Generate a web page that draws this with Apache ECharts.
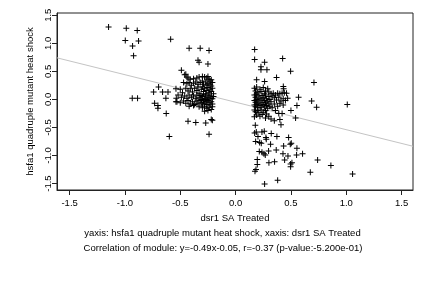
<!DOCTYPE html>
<html><head><meta charset="utf-8">
<script src="https://cdn.jsdelivr.net/npm/echarts@6/dist/echarts.min.js"></script>
<style>html,body{margin:0;padding:0;background:#fff}#c{width:432px;height:288px}</style>
</head><body><div id="c"></div>
<script>
// ---- data ----
const xTicks = [-1.5, -1.0, -0.5, 0.0, 0.5, 1.0, 1.5];
const yTicks = [-1.5, -1.0, -0.5, 0.0, 0.5, 1.0, 1.5];
const xTitle = 'dsr1 SA Treated';
const yTitle = 'hsfa1 quadruple mutant heat shock';
const subtitle1 = 'yaxis: hsfa1 quadruple mutant heat shock, xaxis: dsr1 SA Treated';
const subtitle2 = 'Correlation of module: y=-0.49x-0.05, r=-0.37 (p-value:-5.200e-01)';
const fitSlope = -0.49;
const fitIntercept = -0.05;

const leftOutliers = [
 [-1.148,1.29],[-0.988,1.27],[-0.889,1.23],[-0.997,1.05],[-0.877,1.04],[-0.931,0.95],[-0.922,0.78],
 [-0.587,1.07],[-0.934,0.02],[-0.886,0.02],[-0.741,0.13],[-0.696,0.22],[-0.660,0.13],[-0.611,0.13],
 [-0.732,-0.07],[-0.702,-0.11],[-0.702,-0.16],[-0.630,0.02],[-0.627,-0.25],[-0.599,-0.66],
 [-0.539,0.19],[-0.536,0.02],[-0.539,-0.04],
 [-0.42,0.91],[-0.32,0.91],[-0.24,0.87],[-0.34,0.70],[-0.33,0.66],[-0.25,0.63],
 [-0.43,-0.39],[-0.36,-0.41],[-0.27,-0.42],[-0.22,-0.36],[-0.21,-0.37],[-0.24,-0.62]
];
const leftCluster = [
 [-0.49,0.52],[-0.46,0.44],[-0.45,0.45],[-0.44,0.40],[-0.43,0.38],[-0.41,0.36],[-0.38,0.37],[-0.35,0.38],[-0.33,0.40],[-0.30,0.41],[-0.28,0.40],[-0.26,0.38],[-0.25,0.41],[-0.24,0.36],[-0.23,0.33],[-0.22,0.35],
 [-0.47,0.30],[-0.44,0.28],[-0.42,0.30],[-0.40,0.25],[-0.38,0.29],[-0.36,0.31],[-0.34,0.27],[-0.32,0.30],[-0.30,0.33],[-0.29,0.27],[-0.27,0.31],[-0.26,0.25],[-0.25,0.29],[-0.23,0.27],[-0.22,0.24],[-0.21,0.30],
 [-0.50,0.18],[-0.48,0.12],[-0.45,0.20],[-0.43,0.15],[-0.41,0.19],[-0.39,0.13],[-0.37,0.20],[-0.35,0.16],[-0.34,0.22],[-0.33,0.11],[-0.31,0.18],[-0.30,0.22],[-0.29,0.14],[-0.28,0.19],[-0.27,0.10],[-0.26,0.16],[-0.25,0.21],[-0.24,0.12],[-0.23,0.18],[-0.22,0.14],[-0.21,0.20],[-0.20,0.10],
 [-0.52,0.08],[-0.49,0.04],[-0.46,0.06],[-0.44,0.02],[-0.42,0.08],[-0.40,0.04],[-0.38,0.06],[-0.36,0.01],[-0.35,0.08],[-0.33,0.03],[-0.32,0.07],[-0.31,0.00],[-0.30,0.05],[-0.29,0.09],[-0.28,0.02],[-0.27,0.06],[-0.26,0.00],[-0.25,0.04],[-0.24,0.08],[-0.23,0.02],[-0.22,0.06],[-0.21,0.01],[-0.20,0.05],
 [-0.53,-0.04],[-0.50,-0.06],[-0.47,-0.03],[-0.45,-0.07],[-0.43,-0.02],[-0.41,-0.08],[-0.39,-0.04],[-0.37,-0.09],[-0.35,-0.03],[-0.34,-0.07],[-0.32,-0.02],[-0.31,-0.06],[-0.30,-0.10],[-0.29,-0.03],[-0.28,-0.08],[-0.27,-0.04],[-0.26,-0.09],[-0.25,-0.02],[-0.24,-0.06],[-0.23,-0.10],[-0.22,-0.04],[-0.21,-0.08],
 [-0.42,-0.12],[-0.38,-0.11],[-0.33,-0.13],[-0.30,-0.15],[-0.28,-0.13],[-0.26,-0.16],[-0.24,-0.14],[-0.22,-0.18],[-0.25,-0.20],[-0.28,-0.21],[-0.21,-0.13]
];
const rightCluster = [
 [0.17,0.20],[0.19,0.22],[0.22,0.18],[0.25,0.21],[0.27,0.15],[0.29,0.19],[0.18,0.15],[0.20,0.12],[0.23,0.14],[0.26,0.10],[0.30,0.13],[0.32,0.10],
 [0.17,0.08],[0.18,0.04],[0.19,0.09],[0.21,0.06],[0.22,0.02],[0.24,0.07],[0.25,0.03],[0.27,0.08],[0.28,0.01],[0.30,0.05],[0.31,0.00],[0.33,0.06],
 [0.17,-0.02],[0.18,-0.05],[0.19,0.00],[0.20,-0.03],[0.21,-0.07],[0.23,-0.01],[0.24,-0.05],[0.26,-0.02],[0.27,-0.06],[0.29,-0.03],[0.30,-0.08],[0.32,-0.04],
 [0.17,-0.10],[0.18,-0.13],[0.19,-0.09],[0.20,-0.15],[0.22,-0.11],[0.23,-0.14],[0.25,-0.09],[0.26,-0.13],[0.28,-0.11],[0.29,-0.16],[0.31,-0.12],
 [0.17,-0.19],[0.18,-0.22],[0.20,-0.20],[0.21,-0.24],[0.23,-0.19],[0.25,-0.23],[0.27,-0.20],[0.19,-0.28],[0.22,-0.30],[0.24,-0.27],[0.17,-0.31],[0.28,-0.26],
 [0.34,0.11],[0.36,0.08],[0.38,0.11],[0.40,0.10],[0.42,0.11],[0.44,0.12],[0.46,0.11],[0.35,0.03],[0.37,-0.01],[0.39,0.04],[0.41,-0.03],[0.43,0.01],[0.45,-0.02],[0.47,0.02],
 [0.35,-0.08],[0.38,-0.12],[0.40,-0.07],[0.43,-0.10],[0.36,-0.20],[0.33,-0.15],[0.39,-0.25],[0.42,-0.25],[0.32,-0.35],[0.35,-0.38],[0.40,-0.36],[0.41,-0.45],[0.30,-0.30],[0.27,-0.33]
];
const rightOutliers = [
 [0.172,0.89],[0.172,0.71],[0.262,0.66],[0.229,0.58],[0.229,0.53],[0.283,0.53],[0.425,0.73],[0.497,0.50],
 [0.190,0.35],[0.262,0.32],[0.370,0.39],[0.708,0.30],[0.431,0.23],[0.434,0.19],[0.687,-0.03],[0.732,-0.14],
 [1.009,-0.09],[0.569,0.04],[0.554,-0.11],[0.542,-0.33],[0.500,-0.20],
 [0.178,-0.46],[0.172,-0.60],[0.187,-0.58],[0.202,-0.66],[0.238,-0.58],[0.259,-0.57],[0.181,-0.75],[0.217,-0.77],
 [0.232,-0.78],[0.274,-0.68],[0.277,-0.71],[0.322,-0.61],[0.373,-0.66],[0.316,-0.80],[0.434,-0.83],[0.479,-0.68],
 [0.494,-0.80],[0.503,-0.78],[0.554,-0.87],[0.214,-0.93],[0.238,-0.94],[0.256,-0.97],[0.268,-0.99],[0.298,-0.92],
 [0.367,-0.90],[0.428,-0.97],[0.473,-1.01],[0.551,-0.99],[0.605,-0.97],[0.196,-1.07],[0.196,-1.16],[0.301,-1.13],
 [0.352,-1.11],[0.443,-1.08],[0.509,-1.13],[0.497,-1.15],[0.497,-1.20],[0.741,-1.08],[0.861,-1.18],[0.184,-1.25],
 [0.175,-1.28],[0.380,-1.44],[0.262,-1.51],[0.675,-1.30],[1.057,-1.33]
];

// ---- chart ----
const xMin = -1.614, xMax = 1.603, yMin = -1.615, yMax = 1.54;
const font = 'Liberation Sans, Arial, Helvetica, sans-serif';
const fs = 9.5;
const allPoints = [].concat(leftOutliers, leftCluster, rightCluster, rightOutliers);
const fitLine = [[xMin, fitSlope * xMin + fitIntercept], [xMax, fitSlope * xMax + fitIntercept]];
const plusPath = 'path://M2.5,0h1v6h-1z M0,2.5h6v1h-6z';

const chart = echarts.init(document.getElementById('c'), null, {renderer: 'canvas'});
chart.setOption({
  animation: false,
  backgroundColor: '#fff',
  grid: {left: 57, right: 19, top: 13, bottom: 98, show: true, borderColor: '#222', borderWidth: 1, backgroundColor: 'transparent'},
  xAxis: {
    type: 'value', min: xMin, max: xMax,
    name: xTitle, nameLocation: 'middle', nameGap: 21,
    nameTextStyle: {fontFamily: font, fontSize: fs, color: '#000', lineHeight: fs},
    axisLine: {show: true, onZero: false, lineStyle: {color: '#222', width: 1}},
    axisTick: {show: true, inside: false, length: 5, customValues: xTicks, lineStyle: {color: '#222'}},
    axisLabel: {show: true, customValues: xTicks, margin: 8, fontFamily: font, fontSize: fs, color: '#000',
      formatter: v => Number(v).toFixed(1)},
    splitLine: {show: false}
  },
  yAxis: {
    type: 'value', min: yMin, max: yMax,
    name: yTitle, nameLocation: 'middle', nameGap: 19, nameRotate: 90,
    nameTextStyle: {fontFamily: font, fontSize: fs, color: '#000', lineHeight: fs},
    axisLine: {show: true, onZero: false, lineStyle: {color: '#222', width: 1}},
    axisTick: {show: true, inside: false, length: 5, customValues: yTicks, lineStyle: {color: '#222'}},
    axisLabel: {show: true, customValues: yTicks, margin: 4, rotate: 90, fontFamily: font, fontSize: fs, color: '#000',
      formatter: v => Number(v).toFixed(1)},
    splitLine: {show: false}
  },
  graphic: [
    {type: 'text', x: 222.5, y: 233, style: {text: subtitle1, fontFamily: font, fontSize: fs, fill: '#000', align: 'center', verticalAlign: 'middle'}},
    {type: 'text', x: 223, y: 248.5, style: {text: subtitle2, fontFamily: font, fontSize: fs, fill: '#000', align: 'center', verticalAlign: 'middle'}}
  ],
  series: [
    {type: 'line', data: fitLine, symbol: 'none', silent: true, z: 1,
     lineStyle: {color: '#c4c4c4', width: 1}},
    {type: 'scatter', data: allPoints, symbol: plusPath, symbolSize: 6, z: 2,
     itemStyle: {color: '#000', opacity: 1}}
  ]
});
</script></body></html>
